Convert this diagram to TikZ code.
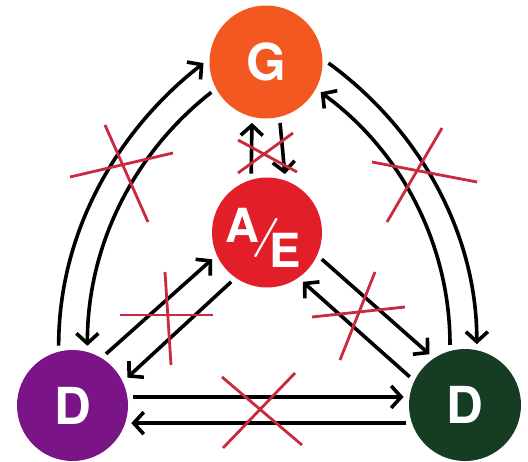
\documentclass[tikz,border=0pt]{standalone}
\usepackage{fontspec}
\setmainfont{TeX Gyre Heros}
\usetikzlibrary{arrows.meta}
\definecolor{gorange}{RGB}{242,88,32}
\definecolor{aered}{RGB}{226,30,40}
\definecolor{dpurple}{RGB}{122,20,135}
\definecolor{dgreen}{RGB}{22,60,36}
\definecolor{xred}{RGB}{202,42,62}
\begin{document}
\begin{tikzpicture}[x=1pt,y=-1pt,
  circ/.style={circle, draw=none, inner sep=0pt, outer sep=6pt, text=white,
    font=\fontsize{51}{51}\selectfont\bfseries},
  aetext/.style={inner sep=0pt, text=white, font=\fontsize{47}{47}\selectfont\bfseries},
  arr/.style={draw=black, line width=3.6pt, -{Straight Barb[length=10pt,width=22pt]}},
  cross/.style={draw=xred, line width=2.8pt},
]
\useasboundingbox[fill=white] (0,0) rectangle (528,461);

% nodes
\node[circ, fill=gorange, minimum size=113pt] (G) at (266,62) {G};
\node[circ, fill=aered, minimum size=110pt] (AE) at (267,232.5) {};
\node[circ, fill=dpurple, minimum size=111pt] (D1) at (72.5,405.5) {D};
\node[circ, fill=dgreen, minimum size=112pt] (D2) at (465,405) {D};

% A/E label
\node[aetext] (aeA) at ([shift={(-24.5,-7.5)}]AE.center) {A};
\node[aetext] (aeE) at ([shift={(18,18)}]AE.center) {E};
\draw[white, line width=2.2pt] ([shift={(9.7,-14.2)}]AE.center) -- ([shift={(-12,24.2)}]AE.center);

% outer arcs
\draw[arr] (D1.103) to[out=90,in=218,looseness=0.9] (G.181);
\draw[arr] (G.209) to[out=218,in=90,looseness=0.9] (D1.76);
\draw[arr] (G.359) to[out=-36,in=90,looseness=0.9] (D2.79);
\draw[arr] (D2.104) to[out=90,in=-36,looseness=0.9] (G.331);

% G <-> A/E
\draw[arr] (AE.105) -- (G.257);
\draw[arr] (G.283) -- (AE.73);

% A/E <-> D
\draw[arr] (D1.57) -- (AE.206);
\draw[arr] (AE.234) -- (D1.27);
\draw[arr] (AE.334) -- (D2.125);
\draw[arr] (D2.153) -- (AE.306);

% D <-> D
\draw[arr] (D1.8) -- (D1.8 -| D2.172);
\draw[arr] (D2.197) -- (D2.197 -| D1.343);

% red crosses
\draw[cross] (238,140) -- (297,172);
\draw[cross] (238,173) -- (293,133);
\draw[cross] (70,177) -- (173,153);
\draw[cross] (105,125) -- (148,222);
\draw[cross] (372,162) -- (477,182);
\draw[cross] (442,128) -- (387,222);
\draw[cross] (120,315) -- (213,315);
\draw[cross] (165,272) -- (171,365);
\draw[cross] (312,317) -- (405,307);
\draw[cross] (375,272) -- (340,360);
\draw[cross] (223,448) -- (295,373);
\draw[cross] (222,377) -- (302,445);
\end{tikzpicture}
\end{document}
